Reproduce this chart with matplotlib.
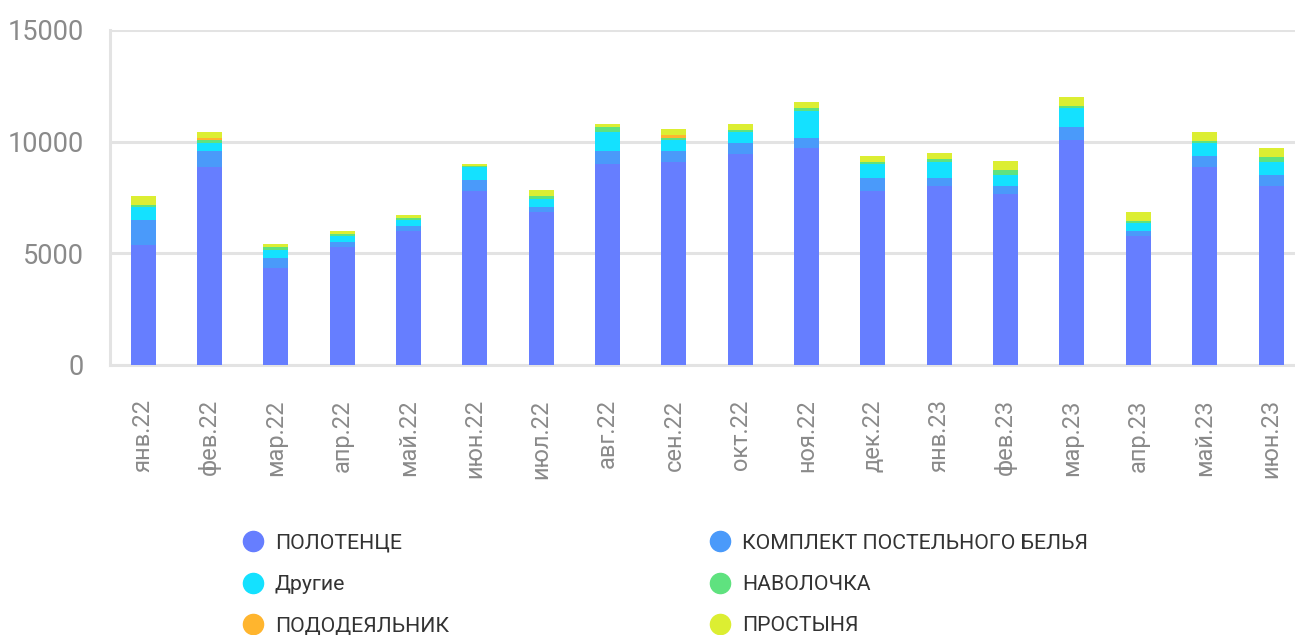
import matplotlib
matplotlib.use("Agg")
import matplotlib.pyplot as plt
from matplotlib.lines import Line2D
import numpy as np

plt.rcParams['font.family'] = ['Roboto', 'DejaVu Sans']

months = ["янв.22", "фев.22", "мар.22", "апр.22", "май.22", "июн.22", "июл.22", "авг.22", "сен.22",
          "окт.22", "ноя.22", "дек.22", "янв.23", "фев.23", "мар.23", "апр.23", "май.23", "июн.23"]

polotence = [5370, 8860, 4340, 5280, 6000, 7790, 6850, 9000, 9090, 9440, 9710, 7790, 8010, 7650, 10070, 5770, 8860, 8010]
komplekt  = [1120, 720, 450, 220, 220, 490, 220, 580, 490, 490, 450, 580, 360, 360, 580, 220, 490, 490]
drugie    = [580, 360, 360, 270, 270, 580, 360, 850, 490, 490, 1210, 630, 720, 490, 850, 360, 580, 580]
navolochka = [90, 130, 130, 90, 90, 20, 130, 220, 90, 90, 130, 90, 130, 220, 90, 90, 90, 220]
pododeyalnik = [0, 90, 0, 0, 0, 0, 0, 0, 130, 0, 0, 0, 0, 0, 0, 0, 0, 0]
prostynya = [400, 270, 130, 130, 130, 130, 270, 130, 270, 270, 270, 270, 270, 400, 400, 400, 400, 400]

series = [
    ("ПОЛОТЕНЦЕ", polotence, "#667eff"),
    ("КОМПЛЕКТ ПОСТЕЛЬНОГО БЕЛЬЯ", komplekt, "#4a9afa"),
    ("Другие", drugie, "#14e1ff"),
    ("НАВОЛОЧКА", navolochka, "#5fe27f"),
    ("ПОДОДЕЯЛЬНИК", pododeyalnik, "#ffb52e"),
    ("ПРОСТЫНЯ", prostynya, "#dcee32"),
]

fig = plt.figure(figsize=(12.95, 6.35), dpi=100)
ax = fig.add_axes([110/1295, 1-364.5/635, 1185/1295, (364.5-30)/635])

x = np.arange(len(months))
bottom = np.zeros(len(months))
for name, vals, col in series:
    v = np.array(vals, dtype=float)
    ax.bar(x, v, bottom=bottom, width=0.377, color=col, zorder=3, linewidth=0)
    bottom += v

ax.set_ylim(0, 15000)
ax.set_yticks([0, 5000, 10000, 15000])
ax.set_xlim(-0.5, 17 + (1295-1271)/66.4)
ax.set_xticks(x)
ax.set_xticklabels(months, rotation=90, va='top', ha='center')

grid_c = "#e3e3e3"
ax.yaxis.grid(True, color=grid_c, linewidth=2.2, zorder=0)
ax.xaxis.grid(False)
for s in ['right', 'top']:
    ax.spines[s].set_visible(False)
for s in ['left', 'bottom']:
    ax.spines[s].set_color(grid_c)
    ax.spines[s].set_linewidth(2.2)
ax.tick_params(axis='both', length=0, colors="#8a8a8a")
ax.tick_params(axis='y', labelsize=19.5, pad=19)
ax.tick_params(axis='x', labelsize=17, pad=25)

handles = [Line2D([0], [0], marker='o', linestyle='none', markersize=14.5,
                  markerfacecolor=c, markeredgecolor=c) for _, _, c in series]
labels = [n for n, _, _ in series]

for idx, xpx in [([0, 2, 4], 242), ([1, 3, 5], 709)]:
    leg = fig.legend([handles[i] for i in idx], [labels[i] for i in idx],
                     loc='center left', bbox_to_anchor=(xpx/1295, 1-584.5/635),
                     bbox_transform=fig.transFigure, frameon=False,
                     fontsize=15.3, handlelength=1.05, handletextpad=0.5,
                     labelspacing=1.05, borderpad=0, borderaxespad=0)
    for t in leg.get_texts():
        t.set_color("#333333")

fig.savefig("out.png", dpi=100)
